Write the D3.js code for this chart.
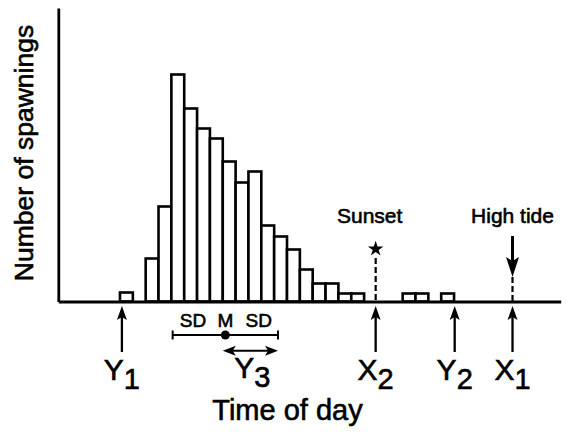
<!DOCTYPE html>
<html><head><meta charset="utf-8">
<script src="https://cdn.jsdelivr.net/npm/d3@7"></script>
<style>
html,body{margin:0;padding:0;background:#fff;}
svg{display:block;}
text{font-family:"Liberation Sans",Arial,Helvetica,sans-serif;fill:#000;stroke:#000;stroke-width:0.6px;}
</style></head><body>
<svg id="chart" width="568" height="435"></svg>
<script>
// ---- data (time in bin units, counts in spawnings) ----
const binStarts = [0,1,2,3,4,5,6,7,8,9,10,11,12,13,14,15,16,17,18,19,20,21,22,23,24,25];
const counts    = [0.9,0,4.3,9.5,22.7,19.3,17.3,16.3,14,11.9,13,7.6,6.5,5.2,3.2,1.8,1.8,0.8,0.8,0,0,0,0.8,0.8,0,0.8];
const markerLetters = ["Y","X","Y","X"];
const markerSubs    = ["1","2","2","1"];
const markerTimes   = [0.15, 19.9, 26.05, 30.55];
const sunsetTime = 19.9;
const highTideTime = 30.55;
const meanTime = 8.2;
const sdTime = 4.1;
const y3Range = [8.0, 12.3];
const xLabel = "Time of day";
const yLabel = "Number of spawnings";

// ---- scales ----
const svg = d3.select("#chart");
const x = d3.scaleLinear().domain([-4.8, 34.3]).range([58.3, 560.7]);
const y = d3.scaleLinear().domain([0, 29.35]).range([301.5, 8]);

// ---- bars ----
const bins = binStarts.map((t,i)=>({t, c: counts[i]})).filter(d=>d.c>0);
svg.append("g").selectAll("rect").data(bins).join("rect")
  .attr("x", d=>x(d.t)).attr("width", d=>x(d.t+1)-x(d.t))
  .attr("y", d=>y(d.c)).attr("height", d=>y(0)-y(d.c))
  .attr("fill","#fff").attr("stroke","#000").attr("stroke-width",2.6);

// ---- axes ----
const gx = svg.append("g").attr("transform",`translate(0,${y(0)})`)
  .call(d3.axisBottom(x).tickValues([]).tickSizeOuter(0));
gx.select(".domain").attr("stroke-width",2.8);
const gy = svg.append("g").attr("transform",`translate(${x(-4.8)},0)`)
  .call(d3.axisLeft(y).tickValues([]).tickSizeOuter(0));
gy.select(".domain").attr("stroke-width",2.8);

// ---- helpers ----
function upArrow(cx, tipY, botY){
  svg.append("line").attr("x1",cx).attr("x2",cx).attr("y1",tipY+8).attr("y2",botY)
    .attr("stroke","#000").attr("stroke-width",2.3);
  svg.append("path").attr("d",`M${cx},${tipY}L${cx-5},${tipY+14}L${cx},${tipY+11}L${cx+5},${tipY+14}Z`).attr("fill","#000");
}

// ---- markers under axis ----
markerTimes.forEach((t,i)=>{
  const cx = x(t);
  upArrow(cx, 306, 352);
  const tx = svg.append("text").attr("x",cx).attr("y",380).attr("text-anchor","middle")
    .attr("font-size",30);
  tx.append("tspan").text(markerLetters[i]);
  tx.append("tspan").attr("dy",9).attr("font-size",29).text(markerSubs[i]);
});

// ---- sunset ----
const sx = x(sunsetTime);
svg.append("line").attr("x1",sx).attr("x2",sx).attr("y1",258).attr("y2",y(0))
  .attr("stroke","#000").attr("stroke-width",2.2).attr("stroke-dasharray","6,3");
svg.append("path").attr("d",d3.symbol().type(d3.symbolStar).size(75)())
  .attr("transform",`translate(${sx},249)`).attr("fill","#000");
svg.append("text").attr("x",sx-6).attr("y",223).attr("text-anchor","middle")
  .attr("font-size",21).text("Sunset");

// ---- high tide ----
const hx = x(highTideTime);
svg.append("line").attr("x1",hx).attr("x2",hx).attr("y1",236).attr("y2",262)
  .attr("stroke","#000").attr("stroke-width",3);
svg.append("path").attr("d",`M${hx},277L${hx-6.5},257L${hx},261L${hx+6.5},257Z`).attr("fill","#000");
svg.append("line").attr("x1",hx).attr("x2",hx).attr("y1",277).attr("y2",y(0))
  .attr("stroke","#000").attr("stroke-width",2.2).attr("stroke-dasharray","6,3");
svg.append("text").attr("x",hx).attr("y",223).attr("text-anchor","middle")
  .attr("font-size",21).text("High tide");

// ---- mean / SD ----
const sdY = 335;
svg.append("line").attr("x1",x(meanTime-sdTime)).attr("x2",x(meanTime+sdTime))
  .attr("y1",sdY).attr("y2",sdY).attr("stroke","#000").attr("stroke-width",2);
[meanTime-sdTime, meanTime+sdTime].forEach(v=>{
  svg.append("line").attr("x1",x(v)).attr("x2",x(v)).attr("y1",sdY-4.5).attr("y2",sdY+4.5)
    .attr("stroke","#000").attr("stroke-width",2);
});
svg.append("circle").attr("cx",x(meanTime)).attr("cy",sdY).attr("r",4.5).attr("fill","#000");
svg.append("text").attr("x",(x(meanTime-sdTime)+x(meanTime))/2-6).attr("y",327).attr("text-anchor","middle").attr("font-size",19).text("SD");
svg.append("text").attr("x",x(meanTime)).attr("y",327).attr("text-anchor","middle").attr("font-size",19).text("M");
svg.append("text").attr("x",(x(meanTime+sdTime)+x(meanTime))/2+7).attr("y",327).attr("text-anchor","middle").attr("font-size",19).text("SD");

// ---- Y3 double arrow ----
const a0 = x(y3Range[0]), a1 = x(y3Range[1]), ay = 350.7;
svg.append("line").attr("x1",a0+8).attr("x2",a1-8).attr("y1",ay).attr("y2",ay)
  .attr("stroke","#000").attr("stroke-width",2);
svg.append("path").attr("d",`M${a0},${ay}L${a0+13},${ay-5}L${a0+10},${ay}L${a0+13},${ay+5}Z`).attr("fill","#000");
svg.append("path").attr("d",`M${a1},${ay}L${a1-13},${ay-5}L${a1-10},${ay}L${a1-13},${ay+5}Z`).attr("fill","#000");
const y3t = svg.append("text").attr("x",(a0+a1)/2+2).attr("y",378).attr("text-anchor","middle").attr("font-size",30);
y3t.append("tspan").text("Y");
y3t.append("tspan").attr("dy",9).attr("font-size",29).text("3");

// ---- axis titles ----
svg.append("text").attr("x",287.5).attr("y",420).attr("text-anchor","middle")
  .attr("font-size",29).text(xLabel);
svg.append("text").attr("transform","translate(33,153) rotate(-90)").attr("text-anchor","middle")
  .attr("font-size",26.5).text(yLabel);
</script>
</body></html>
